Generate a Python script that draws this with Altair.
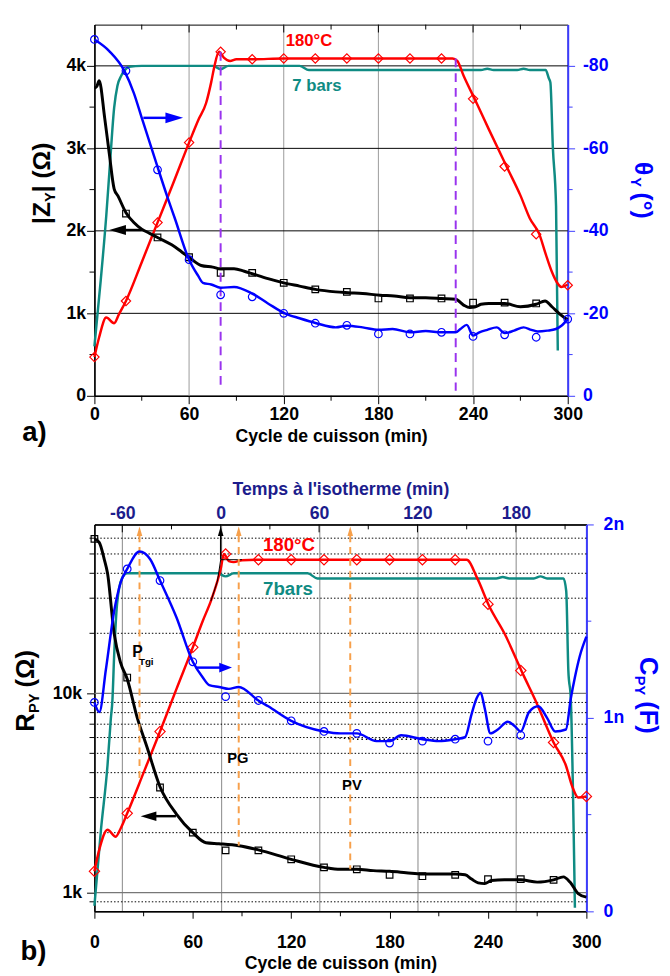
import altair as alt
import pandas as pd

FONT = "Liberation Sans, Arial, sans-serif"
BLUE = "#0000ff"
AXBLUE = "#3b3bff"
RED = "#ff0000"
TEAL = "#0f8b83"
NAVY = "#1c1c8c"
ORANGE = "#f7a04b"
PURPLE = "#9933ee"
GRID = "#9a9a9a"

# ---------------- panel a) data ----------------
a_time_ticks = [0, 60, 120, 180, 240, 300]
a_time_minor = [30, 90, 150, 210, 270]
a_time_top_major = [60, 120, 180, 240]
a_z_ticks = [0, 1000, 2000, 3000, 4000]
a_z_minor = [500, 1500, 2500, 3500]
a_theta_ticks = [0, -20, -40, -60, -80]
a_theta_minor = [-10, -30, -50, -70]
a_vgrid = [60, 120, 180, 240]
a_hgrid = [1000, 2000, 3000, 4000]

a_blk_x = [0, 1.5, 3, 6.5, 9.4, 12.5, 15, 20, 25, 30, 35, 40, 49, 55, 60, 67.7, 75, 80, 88.5, 95,
           100, 110, 120, 130, 140, 153, 161, 170, 181, 190, 200, 210, 220, 229, 234, 238, 241, 245,
           250, 260, 270, 280, 285.6, 290, 295, 300]
a_blk_y = [3730, 3750, 3820, 3370, 2940, 2510, 2420, 2220, 2100, 2020, 1970, 1920, 1830, 1750, 1680,
           1580, 1560, 1540, 1540, 1510, 1480, 1420, 1370, 1330, 1290, 1260, 1250, 1240, 1220, 1210,
           1190, 1190, 1180, 1170, 1100, 1070, 1075, 1110, 1120, 1120, 1080, 1110, 1150, 1080, 990, 920]
a_blk_mx = [20, 40, 60, 80, 100, 120, 140, 160, 180, 200, 220, 240, 260, 280]
a_blk_my = [2210, 1920, 1680, 1490, 1490, 1370, 1290, 1260, 1180, 1180, 1180, 1130, 1130, 1120]

a_red_x = [0, 3, 7.5, 12.5, 15.6, 20, 30, 40, 50, 60, 66, 70.8, 74, 76, 79, 82, 86, 90, 100, 120,
           140, 160, 180, 200, 220, 227, 230, 234, 242, 250, 262, 270, 276, 282, 286, 290, 293, 296, 300]
a_red_y = [470, 710, 950, 880, 990, 1150, 1620, 2100, 2580, 3070, 3350, 3550, 3800, 3990, 4170, 4100,
           4060, 4080, 4080, 4090, 4090, 4090, 4090, 4090, 4090, 4090, 4060, 3880, 3560, 3230, 2750,
           2430, 2150, 1960, 1720, 1500, 1380, 1320, 1350]
a_red_mx = [0, 20, 40, 60, 80, 100, 120, 140, 160, 180, 200, 220, 240, 260, 280, 300]
a_red_my = [470, 1150, 2100, 3070, 4170, 4080, 4090, 4090, 4090, 4090, 4090, 4090, 3600, 2780, 1960, 1340]

a_teal_x = [0, 4, 7.5, 10, 12.5, 14.6, 17, 19, 22, 30, 75, 80, 85, 130, 136, 245, 249, 253, 268, 272,
            276, 286, 288, 289, 290.6, 292.6, 293.7]
a_teal_y = [600, 1400, 2180, 2850, 3490, 3760, 3880, 3940, 3990, 4000, 4000, 3960, 4000, 4000, 3950,
            3950, 3965, 3950, 3950, 3965, 3950, 3950, 3850, 3800, 3000, 2300, 550]

a_blue_x = [0, 9.4, 19, 25, 30, 40, 46, 51, 60, 65.6, 68.8, 74, 80, 88.5, 100, 110, 120.6, 130, 140.6,
            153, 160, 170, 180, 189, 200, 210, 220, 229, 232, 236, 240, 244, 249, 255, 260, 266, 272,
            277, 281, 287, 292.5, 296, 300]
a_blue_y = [-86.4, -83.6, -78.8, -73.4, -67.4, -55.5, -48.5, -43, -33, -29.2, -27.4, -27, -26.2, -26.4,
            -24.8, -22.4, -20, -18.8, -17.6, -16.6, -17.0, -16.6, -16.0, -16.2, -15.4, -15.7, -15.4,
            -15.4, -16.2, -17.2, -14.6, -15.4, -16.0, -16.6, -15.2, -15.8, -16.6, -16.0, -15.6, -15.8,
            -16.2, -17.0, -18.6]
a_blue_mx = [0, 20, 40, 60, 80, 100, 120, 140, 160, 180, 200, 220, 240, 260, 280, 300]
a_blue_my = [-86.4, -78.8, -54.8, -33, -24.5, -24, -20, -17.6, -17.1, -15.0, -15.0, -15.4, -14.4, -14.8,
             -14.2, -18.6]

a_dash_x = [80, 229]
a_dash_top = [4170, 4090]
a_dash_bot = [120, 60]

# ---------------- panel b) data ----------------
b_time_ticks = [0, 60, 120, 180, 240, 300]
b_time_minor = [30, 90, 150, 210, 270]
ISO_ZERO = 77
iso_ticks = [-60, 0, 60, 120, 180]
iso_minor = [-30, 30, 90, 150, 210]
b_r_ticks = [1000, 10000]
b_r_minor = [900, 2000, 3000, 4000, 5000, 6000, 7000, 8000, 9000,
             20000, 30000, 40000, 50000, 60000]
b_c_ticks = [0, 1, 2]
b_c_minor = [0.5, 1.5]

b_blk_x = [0, 3, 6, 8, 12, 16, 20, 26, 32, 40, 50, 60, 68, 76, 88, 100, 120, 140, 150, 160, 170, 180,
           190, 200, 210, 220, 226, 230, 234, 238, 242, 250, 260, 270, 280, 286, 290, 295, 300]
b_blk_y = [59500, 57000, 47000, 40000, 20000, 14200, 11800, 7600, 5400, 3400, 2480, 2000, 1780, 1760,
           1720, 1640, 1470, 1340, 1310, 1310, 1290, 1280, 1260, 1240, 1240, 1240, 1230, 1170, 1120,
           1110, 1150, 1160, 1160, 1130, 1160, 1200, 1130, 990, 950]
b_blk_mx = [0, 20, 40, 60, 80, 100, 120, 140, 160, 180, 200, 220, 240, 260, 280]
b_blk_my = [59500, 12000, 3370, 2000, 1630, 1630, 1470, 1340, 1310, 1230, 1210, 1230, 1170, 1170, 1160]

b_red_x = [0, 3, 8, 13, 16, 20, 30, 40, 50, 60, 66, 71, 75, 77, 79, 82, 85, 90, 100, 120, 140, 160,
           180, 200, 220, 227, 233.5, 240.7, 250, 261.7, 269.5, 275.5, 280, 287.4, 291.6, 295, 300]
b_red_y = [1280, 1650, 2070, 1910, 2100, 2500, 4000, 6430, 10500, 17000, 23000, 29000, 36500, 42000,
           50000, 46000, 45500, 46500, 46800, 46800, 46800, 46800, 46800, 46800, 46800, 46800, 37700,
           27400, 20000, 12300, 9000, 6880, 5670, 4370, 3370, 3000, 3040]
b_red_mx = [0, 20, 40, 60, 80, 100, 120, 140, 160, 180, 200, 220, 240, 260, 280, 300]
b_red_my = [1280, 2500, 6430, 17000, 50000, 46800, 46800, 46800, 46800, 46800, 46800, 46800, 28000,
            13000, 5670, 3040]

b_teal_x = [0, 4, 8, 10, 11, 12, 13.8, 16.8, 20, 30, 75, 80, 85, 130, 136, 245, 249, 253, 268, 272,
            276, 286, 287.7, 289, 290.5, 293]
b_teal_y = [860, 2070, 4370, 7450, 9300, 15200, 28000, 37700, 40000, 40000, 40000, 38600, 40000, 40000,
            37700, 37700, 38300, 37700, 37700, 38600, 37700, 37700, 32600, 13000, 9300, 840]

b_blue_x = [0, 3, 7, 12, 16, 20, 27.5, 34, 40, 50, 60, 66, 70, 76, 82, 88, 100, 106, 120, 140, 150,
            160, 172, 180, 187, 200, 210, 220, 226, 230, 233, 235.5, 238, 241.5, 246, 252, 256, 260,
            265, 270.7, 276, 281, 287.5, 290.5, 293, 296, 300]
b_blue_y = [1.08, 1.03, 1.25, 1.55, 1.70, 1.77, 1.86, 1.82, 1.71, 1.52, 1.29, 1.21, 1.17, 1.16, 1.15,
            1.16, 1.09, 1.06, 0.985, 0.93, 0.92, 0.92, 0.88, 0.88, 0.91, 0.89, 0.88, 0.89, 0.90, 1.02,
            1.10, 1.13, 1.05, 0.92, 0.94, 0.98, 0.96, 0.93, 1.03, 1.06, 1.0, 0.93, 0.94, 1.1, 1.21,
            1.32, 1.42]
b_blue_mx = [0, 20, 40, 60, 80, 100, 120, 140, 160, 180, 200, 220, 240, 260]
b_blue_my = [1.08, 1.77, 1.71, 1.29, 1.11, 1.09, 0.985, 0.93, 0.92, 0.87, 0.88, 0.89, 0.88, 0.91]
b_fit_x = [144, 160, 180, 200, 221]
b_fit_y = [0.90, 0.89, 0.89, 0.89, 0.89]

b_pt_x = [27.5, 88, 156]
b_pt_bot = [3600, 1720, 1310]
b_pt_top = 62000
b_head_y = 65000

# ---------------- helpers ----------------
WA, HA = 482, 378
WB, HB = 501, 394

xa = alt.Scale(domain=[0, 300], nice=False, zero=False)
ya = alt.Scale(domain=[0, 4500], nice=False, zero=False)
ta = alt.Scale(domain=[0, -90], nice=False, zero=False)
xb = alt.Scale(domain=[0, 300], nice=False, zero=False)
yb = alt.Scale(type="log", domain=[806, 70300], nice=False)
cb = alt.Scale(domain=[0, 2], nice=False, zero=False)

RIGHT_HEAD = "M-1,-0.6L1,0L-1,0.6Z"
LEFT_HEAD = "M1,-0.6L-1,0L1,0.6Z"
UP_HEAD = "M-0.6,1L0,-1L0.6,1Z"


def D(**kw):
    return pd.DataFrame(kw)


def X(sc):
    return alt.X("x:Q", scale=sc, axis=None)


def Y(sc, f="y"):
    return alt.Y(f"{f}:Q", scale=sc, axis=None)


def line(xs, ys, sx, sy, color, width, dash=None, interp="monotone"):
    kw = dict(color=color, strokeWidth=width, interpolate=interp)
    if dash:
        kw["strokeDash"] = dash
    return alt.Chart(D(x=xs, y=ys)).mark_line(**kw).encode(x=X(sx), y=Y(sy))


def pts(xs, ys, sx, sy, shape, color, size, sw=1.2, filled=False):
    return alt.Chart(D(x=xs, y=ys)).mark_point(
        shape=shape, color=color, size=size, strokeWidth=sw, filled=filled, opacity=1
    ).encode(x=X(sx), y=Y(sy))


def txt(xs, ys, ts, sx, sy, color, size, weight="bold"):
    return alt.Chart(D(x=xs, y=ys, t=ts)).mark_text(
        color=color, font=FONT, fontSize=size, fontWeight=weight, align="center", baseline="middle"
    ).encode(x=X(sx), y=Y(sy), text="t:N")


def ptext(x, y, t, color, size, angle=0, align="left", baseline="alphabetic", dx=0, dy=0):
    return alt.Chart(D(t=[t])).mark_text(
        color=color, font=FONT, fontSize=size, fontWeight="bold", angle=angle,
        align=align, baseline=baseline, dx=dx, dy=dy
    ).encode(x=alt.value(x), y=alt.value(y), text="t:N")


def xticks(vals, sx, y0, y1, color="black"):
    return alt.Chart(D(x=vals)).mark_rule(color=color, strokeWidth=1).encode(
        x=X(sx), y=alt.value(y0), y2=alt.value(y1))


def yticks(vals, sy, x0, x1, color="black"):
    return alt.Chart(D(y=vals)).mark_rule(color=color, strokeWidth=1).encode(
        y=Y(sy), x=alt.value(x0), x2=alt.value(x1))


def hgrid(vals, sy, color, width=1, dash=None):
    kw = dict(color=color, strokeWidth=width)
    if dash:
        kw["strokeDash"] = dash
    return alt.Chart(D(y=vals)).mark_rule(**kw).encode(y=Y(sy))


def vgrid(vals, sx, color, width=1):
    return alt.Chart(D(x=vals)).mark_rule(color=color, strokeWidth=width).encode(x=X(sx))


def anchor(x, y0, y1):
    return alt.Chart(D(t=[0])).mark_rule(strokeOpacity=0, color="white").encode(
        x=alt.value(x), y=alt.value(y0), y2=alt.value(y1))


def group(*layers):
    return alt.layer(*layers).resolve_axis(x="independent", y="independent")


lab = dict(labelFont=FONT, labelFontSize=18, labelFontWeight="bold", labelFlush=False, labelOverlap=False)
ttl = dict(titleFont=FONT, titleFontSize=18, titleFontWeight="bold")

# ---------------- panel a) ----------------
axA_bottom = alt.Axis(orient="bottom", values=a_time_ticks, tickSize=8, tickColor="black", domainColor="black",
                      domainWidth=1.5, labelColor="black", labelPadding=2, title="Cycle de cuisson (min)",
                      titleColor="black", titlePadding=5, grid=False, **lab, **ttl)
axA_left = alt.Axis(orient="left", values=a_z_ticks, tickSize=8, tickColor="black", domainColor="black",
                    domainWidth=1.5, labelColor="black", labelPadding=1, title=None, grid=False,
                    labelExpr="datum.value == 0 ? '0' : (datum.value/1000) + 'k'", **lab)
axA_right = alt.Axis(orient="right", values=a_theta_ticks, tickSize=7, tickColor=AXBLUE, domainColor=AXBLUE,
                     domainWidth=2, labelColor=BLUE, labelPadding=8, title=None, grid=False,
                     labelExpr="'' + datum.value", **lab)

a_axes = alt.Chart(D(x=[0, 300], y=[0, 4500])).mark_point(opacity=0).encode(
    x=alt.X("x:Q", scale=xa, axis=axA_bottom), y=alt.Y("y:Q", scale=ya, axis=axA_left))

La = group(
    anchor(-87, -7, HA + 62),
    vgrid(a_vgrid, xa, GRID),
    hgrid(a_hgrid, ya, "black"),
    a_axes,
    xticks(a_time_minor, xa, HA, HA + 5),
    xticks(a_time_top_major, xa, 0, 8),
    xticks(a_time_minor, xa, 0, 5),
    yticks(a_z_minor, ya, 0, -5),
    line(a_teal_x, a_teal_y, xa, ya, TEAL, 2.5),
    line(a_red_x, a_red_y, xa, ya, RED, 2.5),
    line(a_blk_x, a_blk_y, xa, ya, "black", 3),
    pts(a_red_mx, a_red_my, xa, ya, "diamond", RED, 90),
    pts(a_blk_mx, a_blk_my, xa, ya, "square", "black", 45),
    alt.Chart(D(x=a_dash_x, y=a_dash_top, y2=a_dash_bot)).mark_rule(
        color=PURPLE, strokeWidth=2, strokeDash=[9, 6]).encode(x=X(xa), y=Y(ya), y2="y2:Q"),
    line([31, 51], [3370, 3370], xa, ya, BLUE, 2.5, interp="linear"),
    pts([50.6], [3370], xa, ya, RIGHT_HEAD, BLUE, 324, sw=0, filled=True),
    line([15, 30], [2010, 2010], xa, ya, "black", 2.5, interp="linear"),
    pts([14.7], [2010], xa, ya, LEFT_HEAD, "black", 289, sw=0, filled=True),
    txt([136], [4300], ["180°C"], xa, ya, RED, 17),
    txt([141], [3750], ["7 bars"], xa, ya, TEAL, 17),
    ptext(-45, 203, "|Z", "black", 25, angle=270),
    ptext(-45, 203, "Y", "black", 15, angle=270, dx=22.3, dy=5),
    ptext(-45, 203, "| (Ω)", "black", 25, angle=270, dx=32.3),
    ptext(-61, 416, "a)", "black", 28, align="center", baseline="middle"),
)

a_raxis = alt.Chart(D(y=[0, -90])).mark_point(opacity=0).encode(
    y=alt.Y("y:Q", scale=ta, axis=axA_right))
Ra = group(
    a_raxis,
    yticks(a_theta_minor, ta, WA, WA + 5, AXBLUE),
    line(a_blue_x, a_blue_y, xa, ta, BLUE, 2.5),
    pts(a_blue_mx, a_blue_my, xa, ta, "circle", BLUE, 60),
    ptext(551, 140, "θ", BLUE, 25, angle=90),
    ptext(551, 140, "Y", BLUE, 15, angle=90, dx=15.3, dy=5),
    ptext(551, 140, "(°)", BLUE, 25, angle=90, dx=31),
)

panel_a = alt.layer(La, Ra).resolve_scale(y="independent").resolve_axis(
    x="independent", y="independent").properties(width=WA, height=HA)

# ---------------- panel b) ----------------
top_major = [v + ISO_ZERO for v in iso_ticks]
top_minor = [v + ISO_ZERO for v in iso_minor]

axB_bottom = alt.Axis(orient="bottom", values=b_time_ticks, tickSize=7, tickColor="black", domainColor="black",
                      domainWidth=1.5, labelColor="black", labelPadding=16, title="Cycle de cuisson (min)",
                      titleColor="black", titlePadding=3, grid=False, **lab, **ttl)
axB_top = alt.Axis(orient="top", values=top_major, ticks=False, domainColor="black", domainWidth=1.5,
                   labelColor=NAVY, labelPadding=2, title="Temps à l'isotherme (min)", titleColor=NAVY,
                   titlePadding=7, grid=True, gridColor=GRID, gridWidth=1.2,
                   labelExpr=f"'' + (datum.value - {ISO_ZERO})", **lab, **ttl)
axB_left = alt.Axis(orient="left", values=b_r_ticks, tickSize=8, tickColor="black", domainColor="black",
                    domainWidth=1.5, labelColor="black", labelPadding=5, title=None, grid=False,
                    labelExpr="(datum.value/1000) + 'k'", **lab)
axB_right = alt.Axis(orient="right", values=b_c_ticks, tickSize=7, tickColor=AXBLUE, domainColor=AXBLUE,
                     domainWidth=2, labelColor=BLUE, labelPadding=10, title=None, grid=False,
                     labelExpr="datum.value == 0 ? '0' : datum.value + 'n'", **lab)

b_axes = alt.Chart(D(x=[0, 300], y=[1000, 10000])).mark_point(opacity=0).encode(
    x=alt.X("x:Q", scale=xb, axis=axB_bottom), y=alt.Y("y:Q", scale=yb, axis=axB_left))
b_top = alt.Chart(D(x=top_major)).mark_point(opacity=0).encode(
    x=alt.X("x:Q", scale=xb, axis=axB_top))

Lb = group(
    anchor(-82, -52, HB + 55),
    hgrid(b_r_minor, yb, "black", 1, dash=[1.5, 2]),
    hgrid(b_r_ticks, yb, "#777777", 1.2),
    b_axes,
    b_top,
    xticks(b_time_minor, xb, HB, HB + 5),
    xticks(top_major, xb, 0, 8),
    xticks(top_minor, xb, 0, 5),
    yticks(b_r_minor, yb, 0, -5),
    line(b_teal_x, b_teal_y, xb, yb, TEAL, 2.5),
    line(b_red_x, b_red_y, xb, yb, RED, 2.5),
    line(b_blk_x, b_blk_y, xb, yb, "black", 3),
    line([71, 75, 77, 90], [29000, 36500, 46800, 46800], xb, yb, "black", 1, interp="linear"),
    pts(b_red_mx, b_red_my, xb, yb, "diamond", RED, 110),
    pts(b_blk_mx, b_blk_my, xb, yb, "square", "black", 45),
    alt.Chart(D(x=b_pt_x, y=[b_pt_top] * 3, y2=b_pt_bot)).mark_rule(
        color=ORANGE, strokeWidth=2, strokeDash=[7, 5]).encode(x=X(xb), y=Y(yb), y2="y2:Q"),
    pts(b_pt_x, [b_head_y] * 3, xb, yb, UP_HEAD, ORANGE, 90, sw=0, filled=True),
    alt.Chart(D(x=[ISO_ZERO], y=[46800], y2=[b_pt_top])).mark_rule(color="black", strokeWidth=1.5).encode(
        x=X(xb), y=Y(yb), y2="y2:Q"),
    pts([ISO_ZERO], [b_head_y], xb, yb, UP_HEAD, "black", 90, sw=0, filled=True),
    line([35, 49.7], [2420, 2420], xb, yb, "black", 2.5, interp="linear"),
    pts([33], [2420], xb, yb, LEFT_HEAD, "black", 256, sw=0, filled=True),
    txt([118.6], [55400], ["180°C"], xb, yb, RED, 19),
    txt([118], [33300], ["7bars"], xb, yb, TEAL, 19),
    txt([26.3], [16100], ["P"], xb, yb, "black", 16),
    txt([31.6], [14300], ["Tgi"], xb, yb, "black", 10),
    txt([87.5], [4730], ["PG"], xb, yb, "black", 15),
    txt([157], [3480], ["PV"], xb, yb, "black", 15),
    ptext(-62, 211, "R", "black", 26, angle=270),
    ptext(-62, 211, "PY", "black", 15, angle=270, dx=19, dy=6),
    ptext(-62, 211, "(Ω)", "black", 26, angle=270, dx=45),
    ptext(-62, 436, "b)", "black", 28, align="center", baseline="middle"),
)

b_raxis = alt.Chart(D(y=[0, 2])).mark_point(opacity=0).encode(
    y=alt.Y("y:Q", scale=cb, axis=axB_right))
Rb = group(
    b_raxis,
    yticks(b_c_minor, cb, WB, WB + 5, AXBLUE),
    line(b_fit_x, b_fit_y, xb, cb, "black", 1.5, dash=[1.5, 3], interp="linear"),
    line(b_blue_x, b_blue_y, xb, cb, BLUE, 2.5),
    pts(b_blue_mx, b_blue_my, xb, cb, "circle", BLUE, 60),
    line([61.7, 78], [1.26, 1.26], xb, cb, BLUE, 2.5, interp="linear"),
    pts([80], [1.26], xb, cb, "M-1,-0.75L1,0L-1,0.75Z", BLUE, 169, sw=0, filled=True),
    ptext(556, 135, "C", BLUE, 26, angle=90),
    ptext(556, 135, "PY", BLUE, 15, angle=90, dx=19, dy=6),
    ptext(556, 135, "(F)", BLUE, 26, angle=90, dx=45),
)

panel_b = alt.layer(Lb, Rb).resolve_scale(y="independent").resolve_axis(
    x="independent", y="independent").properties(width=WB, height=HB)

chart = alt.concat(panel_a, panel_b, columns=1, align="none", spacing=15).properties(
    padding=0
).configure_view(stroke="black", strokeWidth=1)

chart.save("out.html", embed_options={"renderer": "svg", "actions": False})
